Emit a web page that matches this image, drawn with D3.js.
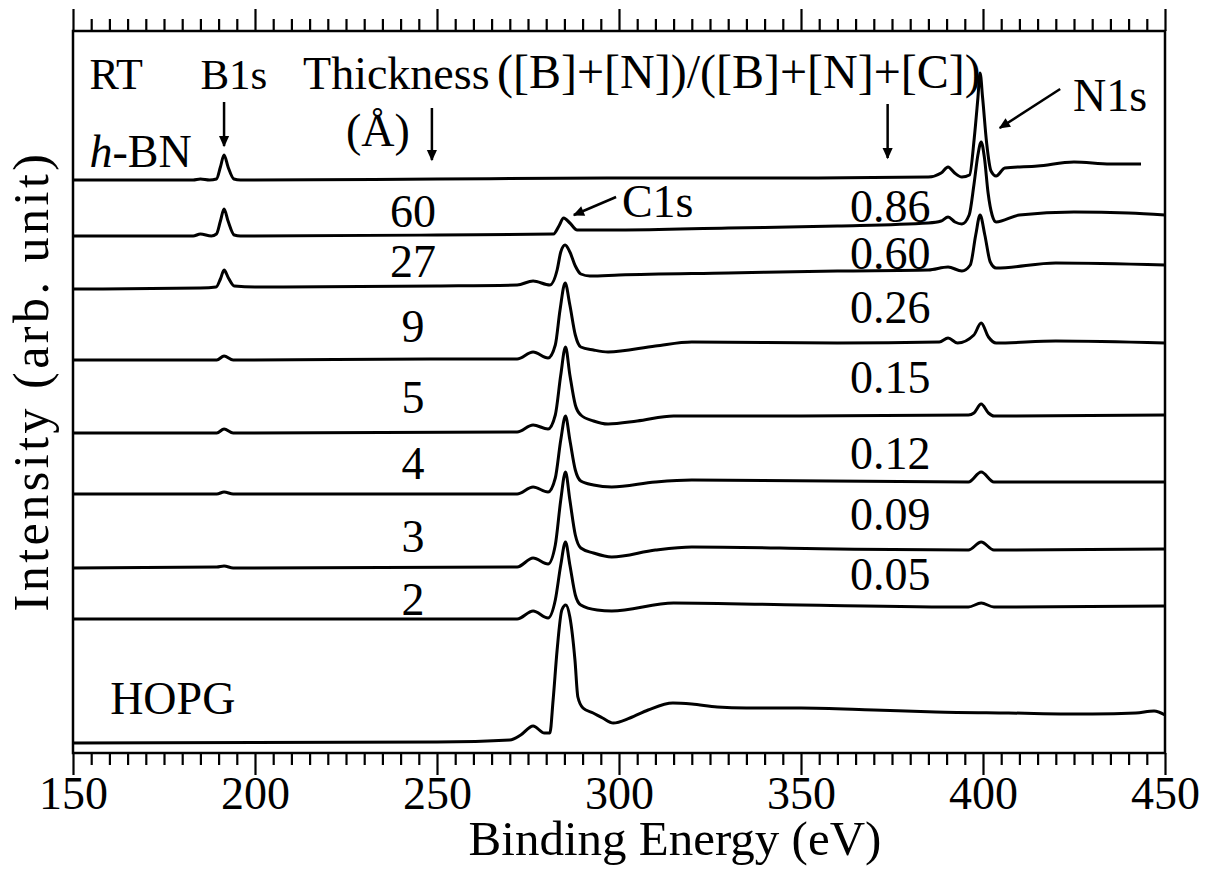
<!DOCTYPE html>
<html>
<head>
<meta charset="utf-8">
<script src="https://cdn.jsdelivr.net/npm/d3@7"></script>
<style>
  html, body { margin: 0; padding: 0; background: #fff; }
  svg { display: block; }
  text { font-family: "Liberation Serif", "Times New Roman", serif; fill: #000; }
</style>
</head>
<body>
<svg id="chart" width="1209" height="874"></svg>
<script>
// ---------- data (binding energy eV, intensity arb. unit incl. offset) ----------
const hBN = [[150,573],[183,573],[185,574],[187.5,573],[189.4,574],[190.5,586],[191.5,598],[192.6,586],[194.2,574],[196,573],[250,574],[300,575],[350,575],[385,576],[388.5,580],[390.4,586],[392.2,580],[394.2,576],[396.3,578],[397.6,615],[398.6,655],[399.2,680],[399.9,655],[401,610],[402.2,582],[403.6,577],[406,585],[415,587],[425,591],[435,589],[443.4,589]];
const t60 = [[150,517],[183,517],[185,519],[188,517],[189.4,519],[190.5,532],[191.5,544],[192.6,532],[194.3,518],[196,517],[250,518],[282,519],[283.5,527],[284.8,535],[286.5,530],[288.5,523],[300,523],[330,525],[360,527],[385,530],[388.5,532],[390.4,536],[392.3,531],[394.2,529],[396.2,538],[397.5,568],[398.6,598],[399.5,611],[400.4,595],[401.4,560],[402.5,538],[403.6,531],[410,538],[425,541],[440,540],[450,538]];
const t27 = [[150,464],[185,465],[189.3,466],[190.5,474],[191.5,483],[192.7,475],[194.3,467],[200,466],[250,467],[272,468],[276.4,472],[281,468],[283,483],[284,501],[285.2,508],[286.5,501],[288,487],[289.5,479],[292,477],[300,478],[330,480],[360,482],[385,483],[390.4,486],[394.2,482],[396.5,488],[398,518],[399.2,538],[400.5,518],[402,491],[403.6,485],[420,490],[450,488]];
const t9 = [[150,393],[189.5,393],[191.5,397],[194,393],[250,394],[272,394],[276.4,401],[280.5,395],[282.5,408],[283.8,443],[285.2,470],[286.5,448],[288,418],[289.5,406],[293,403],[297,401],[310,407],[320,411],[360,410],[388,411],[390.4,415],[393,410],[397.5,418],[399.5,430],[401.5,416],[403.6,410],[420,412],[450,410]];
const t5 = [[150,320],[189.5,320],[191.5,324],[194,320],[272,321],[276.4,328],[280.5,324],[282.5,338],[284,378],[285.3,406],[286.5,378],[288,348],[289.5,338],[293,332],[297,329],[305,332],[315,337],[350,337],[396,338],[397.5,340],[399.5,349],[401.5,340],[403,337],[450,338]];
const t4 = [[150,259],[189.5,259],[191.5,261],[194,259],[272,259],[276.4,266],[280.5,261],[282.5,275],[284,313],[285.3,337],[286.5,313],[288,283],[289.5,272],[293,268],[298,266],[310,271],[320,273],[396,271],[399.5,281],[403,271],[450,271]];
const t3 = [[150,185],[189.5,186],[191.5,187],[194,185],[272,186],[276.4,195],[280.5,189],[282.5,208],[284,253],[285.3,281],[286.5,253],[288,218],[289.5,205],[293,200],[298,196],[310,203],[320,206],[360,204],[396,203],[399.5,211],[403,203],[450,204]];
const t2 = [[150,134],[272,134],[276.4,142],[280.5,135],[282.5,153],[284,188],[285.3,211],[286.5,188],[288,158],[289.5,148],[294,143],[298,142],[315,150],[350,148],[396,146],[399.5,150],[403,146],[450,147]];
const hopg = [[150,10],[250,11],[270,13],[273,18],[276.4,27],[279.5,20],[281,20],[281.9,53],[283,103],[284.3,143],[285.4,148],[286.5,136],[287.9,93],[288.7,56],[290.1,45],[292.9,40],[295.5,35],[298.4,30],[303,35],[308,43],[314.8,50],[320,49],[327,46],[335,45],[350,45],[370,43],[387,41],[407,40],[430,39],[442,40],[447,42],[450,38]];

const spectra = [hBN, t60, t27, t9, t5, t4, t3, t2, hopg];

const thicknessLabels = ["60", "27", "9", "5", "4", "3", "2"];
const thicknessLevels = [526, 476, 411, 340, 274, 201, 138];
const ratioLabels = ["0.86", "0.60", "0.26", "0.15", "0.12", "0.09", "0.05"];
const ratioLevels = [531, 484, 430, 360, 284, 223, 163];

const majorTicks = [150, 200, 250, 300, 350, 400, 450];
const minorTicks = d3.range(150, 451, 5).filter(v => v % 50 !== 0);

// ---------- layout ----------
const svg = d3.select("#chart");
const L = 73, R = 1165, T = 31, B = 753;
const x = d3.scaleLinear().domain([150, 450]).range([L, R]);
const y = d3.scaleLinear().domain([0, 722]).range([B, T]);
const FONT = "Liberation Serif, Times New Roman, serif";

function styleAxis(g) {
  g.select(".domain").remove();
  g.selectAll("line").attr("stroke", "#000").attr("stroke-width", 2.2);
}
svg.append("g").attr("transform", `translate(0,${B})`)
  .call(d3.axisBottom(x).tickValues(minorTicks).tickSize(12).tickFormat(""))
  .call(styleAxis);
const xb = svg.append("g").attr("transform", `translate(0,${B})`)
  .call(d3.axisBottom(x).tickValues(majorTicks).tickSize(22).tickPadding(1).tickFormat(d3.format("d")))
  .call(styleAxis);
xb.selectAll("text").attr("font-size", 46).attr("font-family", FONT).attr("fill", "#000");

svg.append("g").attr("transform", `translate(0,${T})`)
  .call(d3.axisTop(x).tickValues(minorTicks).tickSize(12).tickFormat(""))
  .call(styleAxis);
svg.append("g").attr("transform", `translate(0,${T})`)
  .call(d3.axisTop(x).tickValues(majorTicks).tickSize(22).tickFormat(""))
  .call(styleAxis);

// frame
svg.append("rect").attr("x", L).attr("y", T).attr("width", R - L).attr("height", B - T)
  .attr("fill", "none").attr("stroke", "#000").attr("stroke-width", 2.5);

// spectra
const line = d3.line().x(d => x(d[0])).y(d => y(d[1])).curve(d3.curveMonotoneX);
svg.append("g").selectAll("path").data(spectra).join("path")
  .attr("d", line).attr("fill", "none").attr("stroke", "#000")
  .attr("stroke-width", 3).attr("stroke-linejoin", "round");

// axis titles
svg.append("text").attr("x", 675).attr("y", 855).attr("text-anchor", "middle")
  .attr("font-size", 49).text("Binding Energy (eV)");
svg.append("text").attr("transform", "translate(48,381) rotate(-90)").attr("text-anchor", "middle")
  .attr("font-size", 50).attr("letter-spacing", 3.5).text("Intensity (arb. unit)");

// annotations
const fs = 46;
function label(txt, ex, yy, size) {
  return svg.append("text").attr("x", x(ex)).attr("y", yy)
    .attr("font-size", size || fs).text(txt);
}
label("RT", 154.5, 89, 44);
label("B1s", 185, 89, 43);
label("Thickness", 213.2, 89);
label("(Å)", 225, 146);
label("([B]+[N])/([B]+[N]+[C])", 266.5, 88, 48);
label("N1s", 424.7, 111);
label("C1s", 300.8, 217);
label("HOPG", 160.2, 714);
const hb = svg.append("text").attr("x", x(154.5)).attr("y", 167).attr("font-size", fs);
hb.append("tspan").attr("font-style", "italic").text("h");
hb.append("tspan").text("-BN");

thicknessLabels.forEach((t, i) => {
  svg.append("text").attr("x", x(243.4)).attr("y", y(thicknessLevels[i])).attr("text-anchor", "middle")
    .attr("font-size", fs).text(t);
});
ratioLabels.forEach((t, i) => {
  svg.append("text").attr("x", x(374.5)).attr("y", y(ratioLevels[i])).attr("text-anchor", "middle")
    .attr("font-size", fs).text(t);
});

// arrows
const defs = svg.append("defs");
defs.append("marker").attr("id", "ah").attr("viewBox", "0 0 10 10").attr("refX", 9).attr("refY", 5)
  .attr("markerWidth", 5.5).attr("markerHeight", 4.5).attr("markerUnits", "strokeWidth").attr("orient", "auto")
  .append("path").attr("d", "M0,0.5 L10,5 L0,9.5 Z").attr("fill", "#000");
function arrow(e1, y1, e2, y2) {
  svg.append("line").attr("x1", x(e1)).attr("y1", y1).attr("x2", x(e2)).attr("y2", y2)
    .attr("stroke", "#000").attr("stroke-width", 2.5).attr("marker-end", "url(#ah)");
}
arrow(191.5, 102, 191.5, 146);
arrow(248.6, 108, 248.6, 160);
arrow(373.8, 104, 373.8, 158);
arrow(421.2, 89, 404.6, 128);
arrow(299.2, 197, 287.6, 215);
</script>
</body>
</html>
